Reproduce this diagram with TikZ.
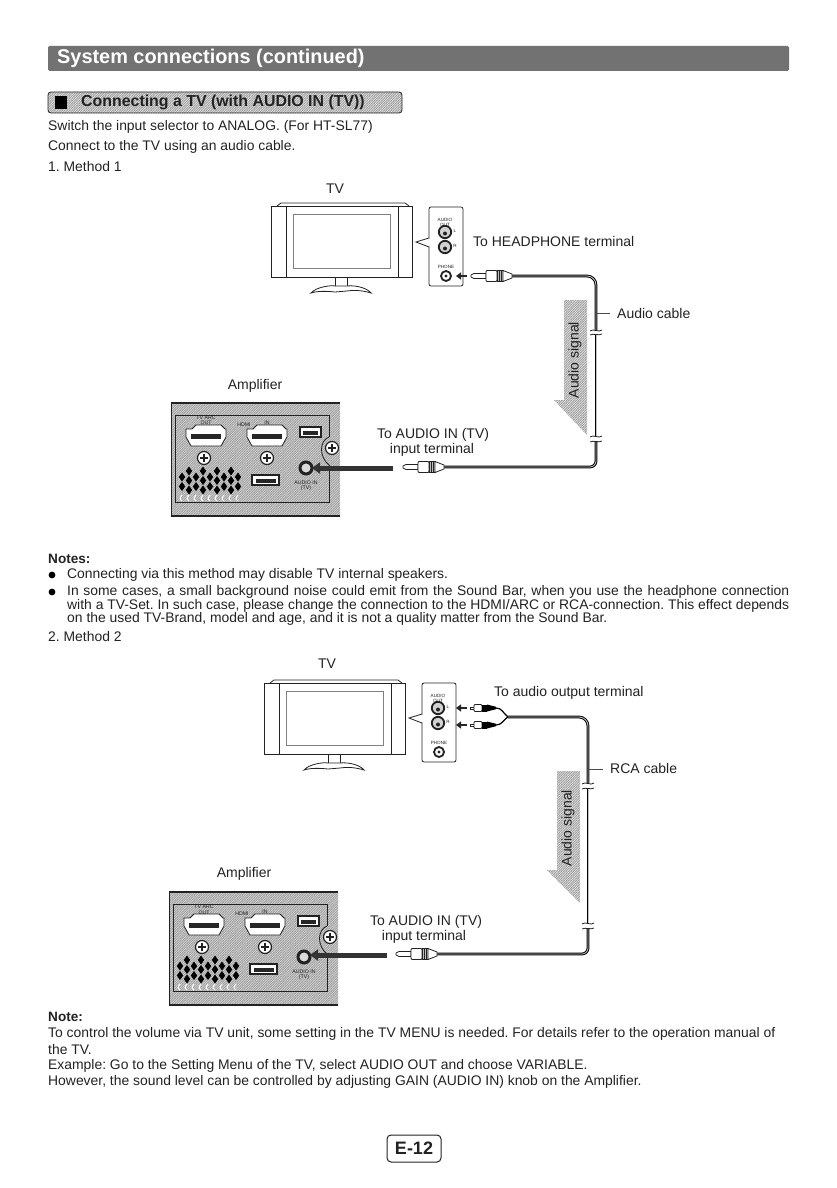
\documentclass[tikz,border=0pt]{standalone}
\usepackage{fontspec}
\setmainfont{Liberation Sans}
\usetikzlibrary{patterns,arrows.meta}
\definecolor{ink}{HTML}{222222}
\definecolor{hatchgray}{HTML}{9A9A9A}
\pgfdeclarepatternformonly{finehatch}{\pgfqpoint{-.5pt}{-.5pt}}{\pgfqpoint{3pt}{3pt}}{\pgfqpoint{2.4pt}{2.4pt}}{%
  \pgfsetlinewidth{.55pt}\pgfpathmoveto{\pgfqpoint{-.5pt}{-.5pt}}\pgfpathlineto{\pgfqpoint{3pt}{3pt}}\pgfusepath{stroke}}
\frenchspacing
\tikzset{
  x=1pt,y=-1pt,
  body/.style={anchor=west,inner sep=0pt,text=ink,font=\fontsize{13.9}{15}\selectfont},
  boldbody/.style={anchor=west,inner sep=0pt,text=ink,font=\fontsize{13.6}{15}\selectfont\bfseries},
  lab/.style={inner sep=0pt,text=ink,font=\fontsize{14}{16}\selectfont},
  tiny/.style={inner sep=0pt,text=ink,font=\fontsize{4.6}{5}\selectfont},
  amptiny/.style={inner sep=0pt,text=ink,font=\fontsize{5.2}{5.4}\selectfont},
  ln/.style={draw=ink,line width=.8pt},
  hatchfill/.style={preaction={fill=#1},pattern=finehatch,pattern color=hatchgray},
  cable/.style={draw=black,line width=1pt,double=gray!45,double distance=.8pt,line cap=butt},
  breaktick/.style={draw=ink,line width=.8pt},
  leader/.style={draw=gray!60!black,line width=1pt},
  bigarrow/.style={-{Triangle[length=8pt,width=11pt]},line width=5pt,draw=black!80},
  smallarrow/.style={-{Triangle[length=5pt,width=7pt]},line width=2.4pt,draw=black!85},
  tvset/.pic={
    \draw[ln] (0,0) rectangle (141,71);
    \draw[ln] (6,0) -- (10,-3) -- (134,-3) -- (138,0);
    \draw[ln] (15,0) -- (15,71) (127,0) -- (127,71);
    \draw[ln,draw=gray] (22,8) rectangle (119,62);
    \draw[ln] (64,71) -- (64,81) -- (76,81) -- (76,71);
    \draw[ln,fill=white] (40,87) .. controls (45,81) and (60,79) .. (64,80) -- (76,80)
      .. controls (85,79) and (96,82) .. (100,87) .. controls (90,84) and (82,84) .. (76,85)
      -- (64,86) .. controls (55,85) and (46,85) .. (40,87) -- cycle;
  },
  panel/.pic={
    \draw[ln,rounded corners=2pt,fill=white] (0,0) rectangle (34,79);
    \draw[ln,fill=white] (0,31) -- (-13,35) -- (0,40);
    \draw[white,line width=1.4pt] (0,31.6) -- (0,39.4);
    \node[tiny,align=center] (-lab) at (16,15) {AUDIO\\OUT};
    \foreach \yy/\nn in {25/L,40/R}{
      \draw[line width=1.8pt,draw=ink,fill=gray!35] (16,\yy) circle (6.2pt);
      \fill[ink] (16,\yy+1.5) circle (2pt);
      \node[tiny] at (26,\yy-1) {\nn};
    }
    \node[tiny] (-ph) at (17,60) {PHONE};
    \draw[line width=1.8pt,draw=ink,fill=white] (17,69) circle (5pt);
    \fill[ink] (17,69) circle (1.6pt);
  },
  plugjack/.pic={
    \draw[ln,fill=white] (0,-1) -- (3,-2.5) -- (15,-2.5) -- (15,2.5) -- (3,2.5) -- (0,1) -- cycle;
    \draw[ln,fill=white,rounded corners=1pt] (15,-5.5) rectangle (26,5.5);
    \draw[ln,fill=gray!50] (26,-5.5) rectangle (32,5.5);
    \draw[ln,fill=white] (32,-5.5) -- (41,-2) -- (41,2) -- (32,5.5) -- cycle;
    \draw[ln] (28,-5.5) -- (28,5.5) (30,-5.5) -- (30,5.5);
  },
  plugrca/.pic={
    \draw[ln,fill=white] (0,-1) rectangle (4,1);
    \draw[ln,fill=white,rounded corners=1pt] (4,-3.5) rectangle (12,3.5);
    \fill[black] (12,-3.5) rectangle (17,3.5);
    \fill[black] (17,-3.5) -- (26,-1.2) -- (26,1.2) -- (17,3.5) -- cycle;
  },
  ampback/.pic={
    \fill[hatchfill=gray!35] (0,0) rectangle (169,113);
    \draw[line width=1.5pt,draw=ink] (0,0) -- (169,0);
    \draw[line width=1.5pt,draw=ink] (0,113) -- (169,113);
    \draw[ln] (0,0) -- (0,113);
    \draw[ln] (158,34) -- (158,12) -- (4,12) -- (4,99) -- (158,99) -- (158,62);
    \draw[ln,fill=white] (15,34) -- (15,26) -- (21,26) -- (25,22) -- (50,22) -- (54,26) -- (55,26) -- (55,34) -- (50,43) -- (20,43) -- cycle;
    \fill[black!85] (20,31) rectangle (50,36);
    \draw[ln,fill=white] (76,34) -- (76,26) -- (82,26) -- (86,22) -- (111,22) -- (115,26) -- (116,26) -- (116,34) -- (111,43) -- (81,43) -- cycle;
    \fill[black!85] (81,31) rectangle (111,36);
    \draw[line width=1.4pt,draw=ink,fill=white] (129,24) rectangle (150,34);
    \fill[black!85] (132,28) rectangle (147,32);
    \draw[line width=1.4pt,draw=ink,fill=white] (81,72) rectangle (108,82);
    \fill[black!85] (85,76) rectangle (105,80);
    \node[amptiny,align=center] (-out) at (35,17.5) {TV ARC\\OUT};
    \node[amptiny] (-hdmi) at (73,22) {HDMI};
    \node[amptiny] (-in) at (96,20) {IN};
    \foreach \sx/\sy in {33/55,96/55,161/45}{
      \draw[line width=1.2pt,draw=ink,fill=white] (\sx,\sy) circle (6.5pt);
      \draw[line width=1.8pt,draw=ink] (\sx-4,\sy) -- (\sx+4,\sy) (\sx,\sy-4) -- (\sx,\sy+4);
    }
    \draw[ln] (158,34) .. controls (148,38) and (148,54) .. (158,62);
    \draw[line width=3pt,draw=ink,fill=gray!30] (135,65) circle (6pt);
    \node[amptiny,align=center] (-aud) at (135,83) {AUDIO IN\\(TV)};
    \foreach \i in {0,...,8}{
      \pgfmathsetmacro{\dx}{11+7*\i}
      \pgfmathsetmacro{\ofs}{mod(\i,2)==0 ? 6 : 0}
      \foreach \r in {0,1,2}{
        \pgfmathsetmacro{\dy}{68+\ofs+9.5*\r}
        \ifdim \dy pt<92pt
        \fill[black] (\dx,\dy-4.5) -- (\dx+3.2,\dy) -- (\dx,\dy+4.5) -- (\dx-3.2,\dy) -- cycle;
        \fi
      }
      \draw[white,line width=1pt] (\dx,92) .. controls (\dx-3,95) and (\dx-2,98) .. (\dx,98);
    }
  }
}
\begin{document}
\begin{tikzpicture}
\useasboundingbox (0,0) rectangle (836,1188);
% header
\fill[rounded corners=1.5pt,fill=gray!62!black!80] (48,46) rectangle (789,71);
\node[anchor=west,inner sep=0pt,text=white,font=\fontsize{19.9}{24}\selectfont\bfseries] (title) at (57,58) {System connections (continued)};
\draw[rounded corners=3pt,draw=ink,line width=.8pt,hatchfill=gray!25] (48,92) rectangle (402,113);
\fill[black] (55,96) rectangle (67,109);
\node[anchor=west,inner sep=0pt,text=ink,font=\fontsize{15.9}{16}\selectfont\bfseries] (sub) at (81,102.5) {Connecting a TV (with AUDIO IN (TV))};
\node[body] (t1) at (48,127) {Switch the input selector to ANALOG. (For HT-SL77)};
\node[body] (t2) at (48,147) {Connect to the TV using an audio cable.};
\node[body] (t3) at (48,167) {1. Method 1};
% method 1
\node[lab] (tvlabA) at (335,189) {TV};
\pic (tvA) at (271,206) {tvset};
\pic (panA) at (429,207) {panel};
\node[lab,anchor=west] (hp) at (473,241) {To HEADPHONE terminal};
\draw[smallarrow] (467,276) -- (456,276);
\coordinate (a1) at (512,276);
\coordinate (a2) at (596,276);
\coordinate (a3) at (596,330);
\coordinate (a4) at (596,335);
\coordinate (a5) at (596,436);
\coordinate (a6) at (596,442);
\coordinate (a7) at (596,467);
\coordinate (a8) at (444,467);
\draw[cable,rounded corners=9pt] (a1) -- (a2) -- (a3);
\draw[cable] (a4) -- (a5);
\draw[cable,rounded corners=6pt] (a6) -- (a7) -- (a8);
\draw[breaktick] (590,331) .. controls (593,328) and (599,333) .. (602,330);
\draw[breaktick] (590,335) .. controls (593,333) and (599,336) .. (602,334);
\draw[breaktick] (590,437) .. controls (593,434) and (599,439) .. (602,436);
\draw[breaktick] (590,442) .. controls (593,440) and (599,443) .. (602,441);
\pic at (471,276) {plugjack};
\pic at (403,467) {plugjack};
\coordinate (la1) at (597,313);
\coordinate (la2) at (610,313);
\draw[leader] (la1) -- (la2);
\node[lab,anchor=west] (acable) at (617,313) {Audio cable};
\fill[hatchfill=gray!25] (564,300) -- (587,300) -- (587,435) -- (554,400) -- (564,400) -- cycle;
\node[lab,rotate=90] (sigA) at (575,360) {Audio signal};
\node[lab] (ampA) at (255,386) {Amplifier};
\pic (ampbA) at (171,403) {ampback};
\node[lab] (inA1) at (433,435) {To AUDIO IN (TV)};
\node[lab] (inA2) at (432,449.5) {input terminal};
\draw[bigarrow] (393,468) -- (312,468);
% notes
\node[boldbody] (notes) at (48,559) {Notes:};
\fill[black] (52,575) circle (3.4pt);
\fill[black] (52,592) circle (3.4pt);
\node[body] (n1) at (67,575) {Connecting via this method may disable TV internal speakers.};
\node[body] (n2) at (67,592) {\makebox[722pt][s]{In some cases, a small background noise could emit from the Sound Bar, when you use the headphone connection}};
\node[body] (n3) at (67,605.5) {\makebox[722pt][s]{with a TV-Set. In such case, please change the connection to the HDMI/ARC or RCA-connection. This effect depends}};
\node[body] (n4) at (67,619) {on the used TV-Brand, model and age, and it is not a quality matter from the Sound Bar.};
\node[body] (t4) at (48,637) {2. Method 2};
% method 2
\node[lab] (tvlabB) at (327,664) {TV};
\pic (tvB) at (264,683) {tvset};
\pic (panB) at (422,683) {panel};
\node[lab,anchor=west] (aot) at (494,693) {To audio output terminal};
\draw[smallarrow] (467,708) -- (456,708);
\draw[smallarrow] (467,725) -- (456,725);
\pic at (470,708) {plugrca};
\pic at (470,725) {plugrca};
\coordinate (j) at (508,717);
\coordinate (b0) at (496,708);
\coordinate (b00) at (496,725);
\draw[line width=1.2pt,black] (b0) .. controls (502,708) and (503,713) .. (j);
\draw[line width=1.2pt,black] (b00) .. controls (502,725) and (503,720) .. (j);
\coordinate (b2) at (588,717);
\coordinate (b3) at (588,783);
\coordinate (b4) at (588,789);
\coordinate (b5) at (588,923);
\coordinate (b6) at (588,928);
\coordinate (b7) at (588,954);
\coordinate (b8) at (437,954);
\draw[cable,rounded corners=9pt] (j) -- (b2) -- (b3);
\draw[cable] (b4) -- (b5);
\draw[cable,rounded corners=6pt] (b6) -- (b7) -- (b8);
\draw[breaktick] (582,784) .. controls (585,781) and (591,786) .. (594,783);
\draw[breaktick] (582,789) .. controls (585,787) and (591,790) .. (594,788);
\draw[breaktick] (582,924) .. controls (585,921) and (591,926) .. (594,923);
\draw[breaktick] (582,929) .. controls (585,927) and (591,930) .. (594,928);
\pic at (396,954) {plugjack};
\coordinate (lb1) at (589,769);
\coordinate (lb2) at (603,769);
\draw[leader] (lb1) -- (lb2);
\node[lab,anchor=west] (rcable) at (610,768) {RCA cable};
\fill[hatchfill=gray!25] (557,771) -- (580,771) -- (580,903) -- (547,870) -- (557,870) -- cycle;
\node[lab,rotate=90] (sigB) at (568,828) {Audio signal};
\node[lab] (ampB) at (244,874) {Amplifier};
\pic (ampbB) at (169,892) {ampback};
\node[lab] (inB1) at (426,922) {To AUDIO IN (TV)};
\node[lab] (inB2) at (424,937) {input terminal};
\draw[bigarrow] (387,955) -- (310,955);
% note
\node[boldbody] (note) at (48,1017) {Note:};
\node[body] (m1) at (48,1034) {To control the volume via TV unit, some setting in the TV MENU is needed. For details refer to the operation manual of};
\node[body] (m2) at (48,1050) {the TV.};
\node[body] (m3) at (48,1066) {Example: Go to the Setting Menu of the TV, select AUDIO OUT and choose VARIABLE.};
\node[body] (m4) at (48,1082) {However, the sound level can be controlled by adjusting GAIN (AUDIO IN) knob on the Amplifier.};
\node[draw=ink,line width=1pt,rounded corners=4pt,inner sep=0pt,minimum width=54pt,minimum height=27pt,text=ink,font=\fontsize{18}{20}\selectfont\bfseries] (page) at (414,1148.5) {E-12};
\end{tikzpicture}
\end{document}
